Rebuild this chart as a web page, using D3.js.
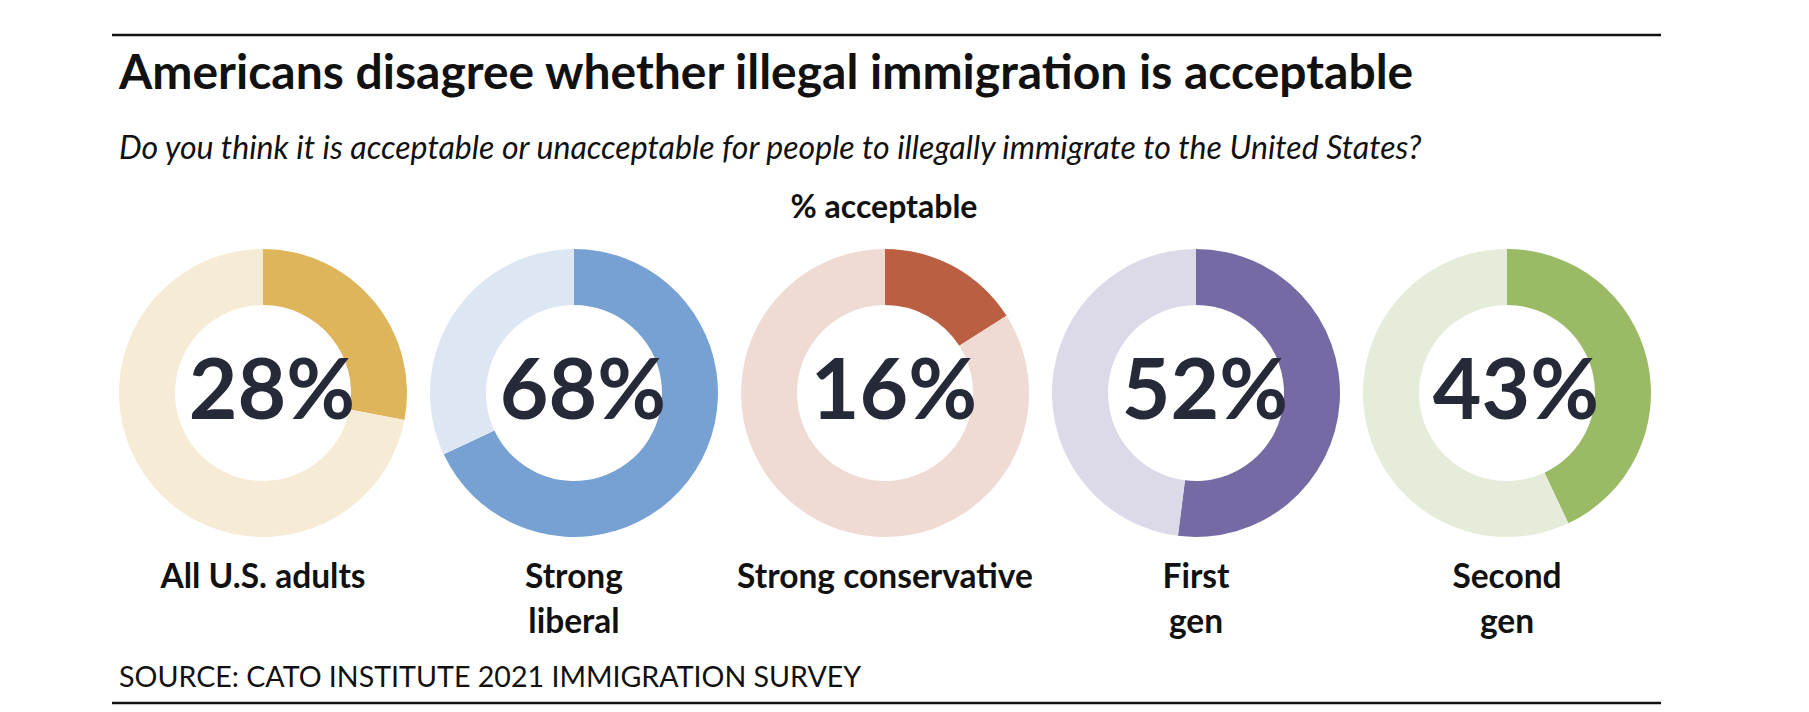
<!DOCTYPE html>
<html>
<head>
<meta charset="utf-8">
<script src="https://cdn.jsdelivr.net/npm/d3@7"></script>
<style>
  html, body { margin: 0; padding: 0; background: #fff; }
  svg { display: block; font-family: Lato, "Open Sans", sans-serif; }
</style>
</head>
<body>
<div id="chart"></div>
<script>
// data
const groups = ['All U.S. adults', 'Strong liberal', 'Strong conservative', 'First gen', 'Second gen'];
const labelLines = [['All U.S. adults'], ['Strong', 'liberal'], ['Strong conservative'], ['First', 'gen'], ['Second', 'gen']];
const acceptable = [28, 68, 16, 52, 43];
const darkColors = ['#dfb55b', '#77a1d3', '#bb5f42', '#756aa3', '#9aba66'];
const lightColors = ['#f6ecd6', '#dde7f3', '#f0dbd4', '#dcd9e8', '#e5edda'];

const title = 'Americans disagree whether illegal immigration is acceptable';
const subtitle = 'Do you think it is acceptable or unacceptable for people to illegally immigrate to the United States?';
const unitLabel = '% acceptable';
const source = 'SOURCE: CATO INSTITUTE 2021 IMMIGRATION SURVEY';

const width = 1809, height = 712;

const svg = d3.select('#chart').append('svg')
    .attr('width', width)
    .attr('height', height);

svg.append('rect').attr('width', width).attr('height', height).attr('fill', '#fff');

// rules top and bottom
svg.append('line')
    .attr('x1', 112).attr('x2', 1661).attr('y1', 35).attr('y2', 35)
    .attr('stroke', '#111').attr('stroke-width', 2.5);
svg.append('line')
    .attr('x1', 112).attr('x2', 1661).attr('y1', 703).attr('y2', 703)
    .attr('stroke', '#111').attr('stroke-width', 2.5);

svg.append('text')
    .attr('x', 119).attr('y', 89)
    .attr('font-size', 48).attr('font-weight', 700).attr('fill', '#111')
    .text(title);

svg.append('text')
    .attr('x', 119).attr('y', 159)
    .attr('font-size', 32.1).attr('font-style', 'italic').attr('fill', '#111')
    .text(subtitle);

svg.append('text')
    .attr('x', 884).attr('y', 218)
    .attr('text-anchor', 'middle')
    .attr('font-size', 32).attr('font-weight', 700).attr('fill', '#111')
    .text(unitLabel);

const x = d3.scalePoint().domain(groups).range([263, 1507]);
const cy = 393;
const outerR = 144, innerR = 88;

const pie = d3.pie().sort(null).value(d => d);
const arc = d3.arc().innerRadius(innerR).outerRadius(outerR);

groups.forEach((g, i) => {
    const donut = svg.append('g').attr('transform', `translate(${x(g)},${cy})`);
    const slices = pie([acceptable[i], 100 - acceptable[i]]);
    donut.selectAll('path')
        .data(slices)
        .join('path')
        .attr('d', arc)
        .attr('fill', (d, j) => j === 0 ? darkColors[i] : lightColors[i]);

    donut.append('text')
        .attr('x', 9).attr('y', 26)
        .attr('text-anchor', 'middle')
        .attr('font-size', 84).attr('font-weight', 700).attr('fill', '#262a38')
        .text(acceptable[i] + '%');

    const lbl = svg.append('text')
        .attr('text-anchor', 'middle')
        .attr('font-size', 33.5).attr('font-weight', 700).attr('fill', '#111');
    labelLines[i].forEach((line, k) => {
        lbl.append('tspan')
            .attr('x', x(g)).attr('y', 588 + k * 45)
            .text(line);
    });
});

svg.append('text')
    .attr('x', 119).attr('y', 687)
    .attr('font-size', 28.6).attr('fill', '#111')
    .text(source);
</script>
</body>
</html>
